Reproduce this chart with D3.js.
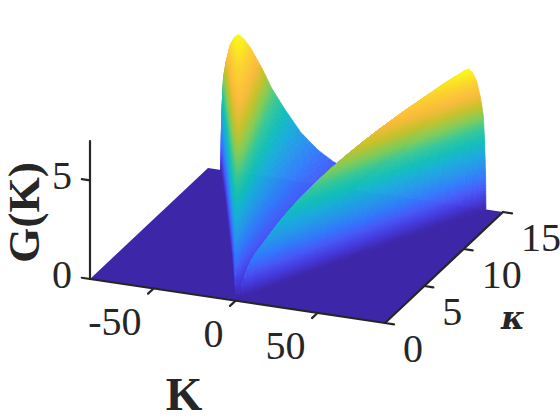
<!DOCTYPE html>
<html>
<head>
<meta charset="utf-8">
<script src="https://cdn.jsdelivr.net/npm/d3@7"></script>
<style>
  html,body{margin:0;padding:0;background:#fff}
  svg{display:block}
  text{fill:#262626;font-family:"Liberation Serif",serif}
</style>
</head>
<body>
<svg id="chart" width="560" height="420"></svg>
<script>
// axis ticks
const kTicks=[-50,0,50]
const kappaTicks=[0,5,10,15]
const gTicks=[0,5]

// kappa rows of the surface, and |K| where G reaches zero in each row
const kappaRows=[0,1,2,3,4,5,6,7,8,9,10,11,12,13,14,15]
const edgeK=[0,5,10.2,15.4,20.7,26,31.4,36.8,42.2,47.6,53,58.4,64,69.5,75,80.8]
// columns: K as a fraction of edgeK, the surface is the same on both sides of K=0
const edgeFractions=[0,.15,.27,.40,.52,.62,.69,.78,.83,.87,.90,.93,.96,.98,.99,.997,1]
// G(K), one row per kappa
const gRows=[
  [0,0,0,0,0,0,0,0,0,0,0,0,0,0,0,0,0],
  [.21,.30,.41,.59,.84,1.07,1.29,1.52,1.61,1.65,1.61,1.52,1.32,1.12,.81,.43,0],
  [.32,.44,.61,.88,1.25,1.59,1.91,2.25,2.39,2.45,2.39,2.25,1.96,1.67,1.20,.64,0],
  [.41,.57,.79,1.13,1.61,2.05,2.46,2.90,3.07,3.15,3.07,2.90,2.52,2.14,1.54,.82,0],
  [.48,.67,.93,1.34,1.90,2.42,2.90,3.42,3.63,3.72,3.63,3.42,2.98,2.53,1.82,.97,0],
  [.55,.76,1.05,1.51,2.14,2.73,3.28,3.86,4.10,4.20,4.10,3.86,3.36,2.86,2.06,1.09,0],
  [.60,.83,1.16,1.67,2.36,3.01,3.61,4.26,4.51,4.63,4.51,4.26,3.70,3.15,2.27,1.20,0],
  [.65,.90,1.25,1.80,2.55,3.25,3.90,4.60,4.88,5.00,4.88,4.60,4.00,3.40,2.45,1.30,0],
  [.69,.96,1.33,1.92,2.72,3.46,4.16,4.90,5.20,5.33,5.20,4.90,4.26,3.62,2.61,1.39,0],
  [.73,1.01,1.41,2.03,2.87,3.66,4.39,5.18,5.49,5.63,5.49,5.18,4.50,3.83,2.76,1.46,0],
  [.77,1.06,1.48,2.12,3.01,3.84,4.60,5.43,5.75,5.90,5.75,5.43,4.72,4.01,2.89,1.53,0],
  [.80,1.11,1.54,2.21,3.14,4.00,4.80,5.66,6.00,6.15,6.00,5.66,4.92,4.18,3.01,1.60,0],
  [.83,1.15,1.60,2.30,3.25,4.15,4.98,5.87,6.22,6.38,6.22,5.87,5.10,4.34,3.13,1.66,0],
  [.86,1.19,1.65,2.38,3.37,4.29,5.15,6.07,6.44,6.60,6.44,6.07,5.28,4.49,3.23,1.72,0],
  [.89,1.23,1.71,2.46,3.48,4.43,5.32,6.27,6.65,6.82,6.65,6.27,5.46,4.64,3.34,1.77,0],
  [.91,1.26,1.75,2.52,3.57,4.55,5.46,6.44,6.83,7.00,6.83,6.44,5.60,4.76,3.43,1.82,0]
]
// parula
const parula=['#3e26a8','#463bde','#475bf9','#327bfc','#2796eb','#1aacdc','#12beb9','#35c79a','#80cc59','#c7c12a','#fbbb3c','#fbd32e','#f9fb15']

const kDomain=[-88.8,91.2]
const kappaDomain=[0,15]
const gDomain=[0,7]
const xOfK=d3.scaleLinear().domain(kDomain).range([90,385])
const yOfK=d3.scaleLinear().domain(kDomain).range([279,323])
const xOfKappa=d3.scaleLinear().domain(kappaDomain).range([0,118])
const yOfKappa=d3.scaleLinear().domain(kappaDomain).range([0,-111])
const yOfG=d3.scaleLinear().domain(gDomain).range([0,-138])
const color=d3.scaleLinear()
  .domain(parula.map((c,i)=>gDomain[1]*i/(parula.length-1)))
  .range(parula)
  .interpolate(d3.interpolateRgb)
  .clamp(true)

function project(K,kappa,g){
  return [
    xOfK(K)+xOfKappa(kappa),
    yOfK(K)+yOfKappa(kappa)+yOfG(g||0)
  ]
}

const svg=d3.select('#chart')
const line=d3.line()

// floor
svg.append('path')
  .attr('fill',parula[0])
  .attr('d',line([
    project(kDomain[0],kappaDomain[0]),
    project(kDomain[1],kappaDomain[0]),
    project(kDomain[1],kappaDomain[1]),
    project(kDomain[0],kappaDomain[1])
  ])+'Z')

// rounds the corners between rows when the cells get drawn
function smooth(a,b,c,d,t){
  return .5*(2*b+(c-a)*t+(2*a-5*b+4*c-d)*t*t+(3*b-a-3*c+d)*t*t*t)
}
function acrossRows(read,j,t){
  const last=kappaRows.length-1
  return smooth(read(Math.max(j-1,0)),read(j),read(j+1),read(Math.min(j+2,last)),t)
}

// same thing as matlab's shading interp: split each cell so the colour runs smoothly
function cellPoint(i,j,s,t,side){
  const kappa=kappaRows[j]+(kappaRows[j+1]-kappaRows[j])*t
  const edge=Math.max(0,acrossRows(r=>edgeK[r],j,t))
  const f=edgeFractions[i]+(edgeFractions[i+1]-edgeFractions[i])*s
  const g=Math.max(0,acrossRows(r=>gRows[r][i]+(gRows[r][i+1]-gRows[r][i])*s,j,t))
  return {K:side*f*edge,kappa,g}
}

const quads=[]
;[-1,1].forEach(side=>{
  for(let j=0;j<kappaRows.length-1;j++){
    for(let i=0;i<edgeFractions.length-1;i++){
      const du=Math.abs(gRows[j+1][i+1]-gRows[j+1][i])
      const ns=Math.ceil(du*6)+1
      const nt=5
      for(let a=0;a<ns;a++){
        for(let b=0;b<nt;b++){
          const c=[[a,b],[a+1,b],[a+1,b+1],[a,b+1]].map(p=>cellPoint(i,j,p[0]/ns,p[1]/nt,side))
          const mid=cellPoint(i,j,(a+.5)/ns,(b+.5)/nt,side)
          quads.push({
            pts:c.map(p=>project(p.K,p.kappa,p.g)),
            g:mid.g,
            depth:yOfK(mid.K)+yOfKappa(mid.kappa)
          })
        }
      }
    }
  }
})
quads.sort((a,b)=>d3.ascending(a.depth,b.depth))

svg.append('g')
  .selectAll('path')
  .data(quads)
  .join('path')
  .attr('d',d=>line(d.pts)+'Z')
  .attr('fill',d=>color(d.g))
  .attr('stroke',d=>color(d.g))
  .attr('stroke-width',.7)
  .attr('stroke-linejoin','round')

// axes
const axisColor='#262626'
const axes=svg.append('g')
  .attr('fill','none')
  .attr('stroke',axisColor)
  .attr('stroke-width',2.2)
  .attr('stroke-linecap','round')

axes.append('path').attr('d',line([project(kDomain[0],0),project(kDomain[1],0)]))
axes.append('path').attr('d',line([project(kDomain[1],0),project(kDomain[1],15)]))
axes.append('path').attr('d',line([project(kDomain[0],0,0),project(kDomain[0],0,7)]))

kTicks.forEach(k=>{
  axes.append('path').attr('d',line([project(k,0),project(k,-.7)]))
  const p=project(k,0)
  svg.append('text').attr('x',p[0]-12).attr('y',p[1]+46.5)
    .attr('text-anchor','end').attr('font-size',40).text(k)
})
kappaTicks.forEach(k=>{
  axes.append('path').attr('d',line([project(kDomain[1],k),project(kDomain[1]+5.5,k)]))
  const p=project(kDomain[1],k)
  svg.append('text').attr('x',p[0]+18).attr('y',p[1]+38.5)
    .attr('text-anchor','start').attr('font-size',40).text(k)
})
gTicks.forEach(g=>{
  axes.append('path').attr('d',line([project(kDomain[0],0,g),project(kDomain[0]-5,0,g)]))
  const p=project(kDomain[0],0,g)
  svg.append('text').attr('x',p[0]-18).attr('y',p[1]+8.5)
    .attr('text-anchor','end').attr('font-size',40).text(g)
})

// axis titles
svg.append('text').attr('x',184).attr('y',410)
  .attr('text-anchor','middle').attr('font-size',47).attr('font-weight','bold').text('K')
svg.append('text').attr('x',513).attr('y',329)
  .attr('text-anchor','middle').attr('font-size',32).attr('font-weight','bold').attr('font-style','italic')
  .style('font-family','"DejaVu Serif",serif').text('κ')
svg.append('text').attr('transform','translate(39,263) rotate(-90)')
  .attr('font-size',44).attr('font-weight','bold')
  .attr('textLength',101).attr('lengthAdjust','spacingAndGlyphs').text('G(K)')
</script>
</body>
</html>
